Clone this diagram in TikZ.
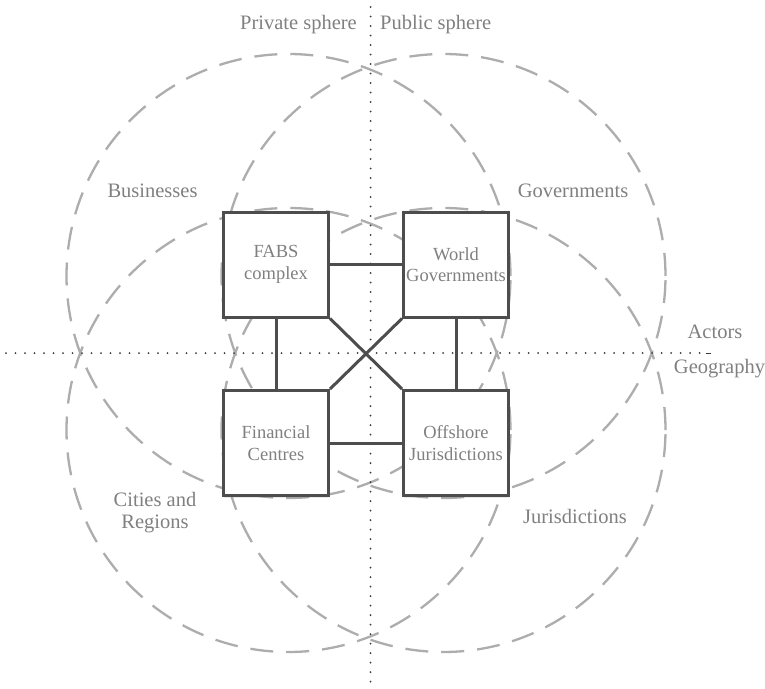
\documentclass[tikz,border=0pt]{standalone}
\usepackage{fontspec}
\setmainfont{Liberation Serif}
\usetikzlibrary{shadows}
\definecolor{boxc}{HTML}{4D4D4D}
\definecolor{txtc}{HTML}{808080}
\definecolor{circc}{HTML}{ADADAD}
\definecolor{dotc}{HTML}{3A3A3A}
\begin{document}
\begin{tikzpicture}[x=1pt,y=-1pt,
  ring/.style={draw=circc, line width=2.3pt, dash pattern=on 23pt off 13pt},
  dotline/.style={draw=dotc, line width=2pt, line cap=round, dash pattern=on 0pt off 9.5pt},
  box/.style={draw=boxc, line width=3pt, fill=white, minimum width=105pt, minimum height=105pt,
    inner sep=0pt, align=center, text=txtc, font=\fontsize{18.5}{21.5}\selectfont,
    drop shadow={shadow xshift=0.8pt, shadow yshift=-2pt, opacity=0.18}},
  link/.style={draw=boxc, line width=3pt},
  lab/.style={text=txtc, font=\fontsize{20.5}{22}\selectfont, inner sep=0pt}]
\useasboundingbox (0,0) rectangle (765,688);
\fill[white] (0,0) rectangle (765,688);

% dashed circles
\draw[ring] (288.5,276) circle (222pt);
\draw[ring] (443.5,276) circle (222pt);
\draw[ring] (288.5,430) circle (222pt);
\draw[ring] (443.5,430) circle (222pt);

% dotted axes
\coordinate (vt) at (370.5,7);
\coordinate (vb) at (370.5,688);
\coordinate (hl) at (6,353);
\coordinate (hr) at (701,353);
\draw[dotline] (vt) -- (vb);
\draw[dotline] (hl) -- (hr);
\coordinate (da) at (705.5,353);
\coordinate (db) at (710.5,353);
\draw[draw=dotc, line width=1pt] (da) -- (db);

% boxes
\node[box] (fabs) at (276,264.5) {FABS\\complex};
\node[box] (world) at (456,264.5) {World\\Governments};
\node[box] (fin) at (276,443) {Financial\\Centres};
\node[box] (off) at (456,443) {Offshore\\Jurisdictions};

% links
\draw[link] (fabs) -- (world);
\draw[link] (fin) -- (off);
\draw[link] (fabs) -- (fin);
\draw[link] (world) -- (off);
\draw[link] (fabs.south east) -- (off.north west);
\draw[link] (world.south west) -- (fin.north east);

% labels
\node[lab, anchor=base east] (priv) at (357,29) {Private sphere};
\node[lab, anchor=base west] (pub) at (380,29) {Public sphere};
\node[lab, anchor=base] (bus) at (152.5,197) {Businesses};
\node[lab, anchor=base] (gov) at (573,197) {Governments};
\node[lab, align=center] (city) at (155,513) {Cities and\\Regions};
\node[lab, anchor=base] (jur) at (575,523) {Jurisdictions};
\node[lab, anchor=base] (act) at (715,338) {Actors};
\node[lab, anchor=base] (geo) at (719.5,373) {Geography};
\end{tikzpicture}
\end{document}
